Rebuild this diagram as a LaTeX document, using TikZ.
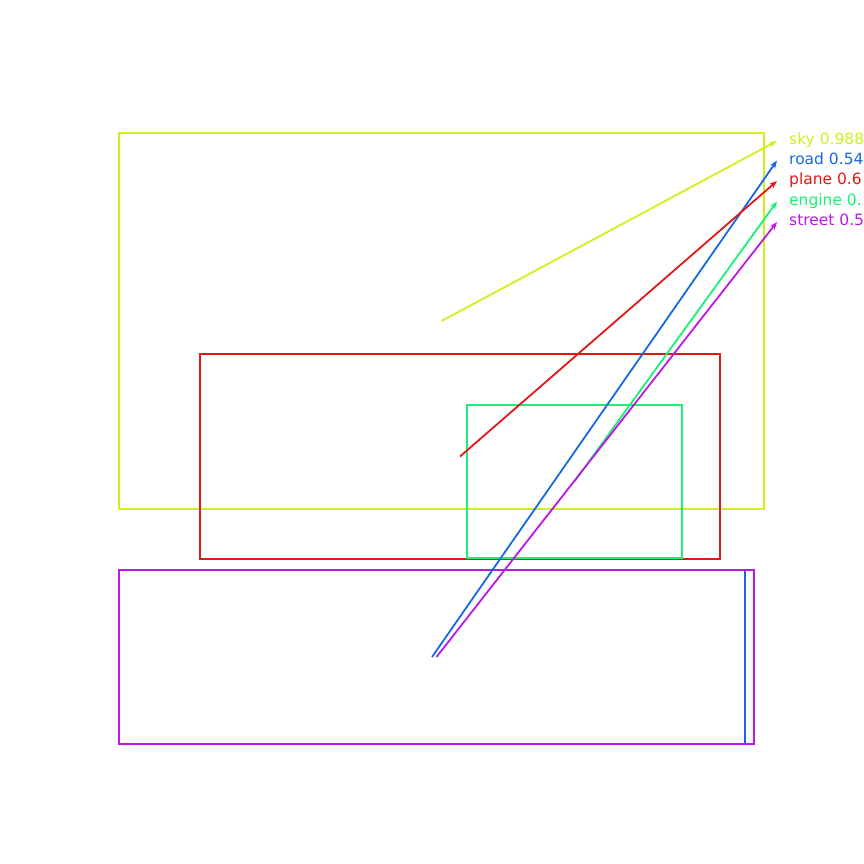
\documentclass[tikz,border=0pt]{standalone}
\usepackage{fontspec}
\setmainfont{DejaVu Sans}
\usetikzlibrary{arrows.meta}

\definecolor{skyc}{RGB}{208,240,26}
\definecolor{planec}{RGB}{230,22,22}
\definecolor{enginec}{RGB}{26,240,118}
\definecolor{roadc}{RGB}{22,104,232}
\definecolor{streetc}{RGB}{188,22,232}

\tikzset{
  box/.style={draw=#1, line width=1.8pt, minimum width=0pt, minimum height=0pt, inner sep=0pt},
  lbl/.style={text=#1, anchor=west, inner xsep=12pt, inner ysep=0pt, text height=0.85em, text depth=0.15em,
              font=\fontsize{15.5}{18}\selectfont},
  ptr/.style={draw=#1, line width=1.8pt, ->}
}

\begin{document}
\begin{tikzpicture}[x=1pt, y=-1pt, >={Stealth[length=8pt,width=6pt]}]
                \useasboundingbox (0,0) rectangle (864,864);

                \node[box=skyc, minimum width=645pt, minimum height=376pt] (sky) at (441.5,321) {};
                \node[box=planec, minimum width=520pt, minimum height=205pt] (plane) at (460,456.5) {};
                \node[box=enginec, minimum width=215pt, minimum height=153pt] (engine) at (574.5,481.5) {};
                \node[box=roadc, minimum width=626pt, minimum height=174pt] (road) at (432,657) {};
                \node[box=streetc, minimum width=635pt, minimum height=174pt] (street) at (436.5,657) {};

                % Nhãn
                \node[lbl=skyc] (skylbl) at (777,141) {sky 0.988};
                \node[lbl=roadc] (roadlbl) at (777,160.5) {road 0.54};
                \node[lbl=planec] (planelbl) at (777,181) {plane 0.6};
                \node[lbl=enginec] (enginelbl) at (777,201.5) {engine 0.};
                \node[lbl=streetc] (streetlbl) at (777,222) {street 0.5};

                \draw[ptr=skyc] (sky.center) -- (skylbl.west);
                \draw[ptr=roadc] (road.center) -- (roadlbl.west);
                \draw[ptr=planec] (plane.center) -- (planelbl.west);
                \draw[ptr=enginec] (engine.center) -- (enginelbl.west);
                \draw[ptr=streetc] (street.center) -- (streetlbl.west);
            \end{tikzpicture}
\end{document}
